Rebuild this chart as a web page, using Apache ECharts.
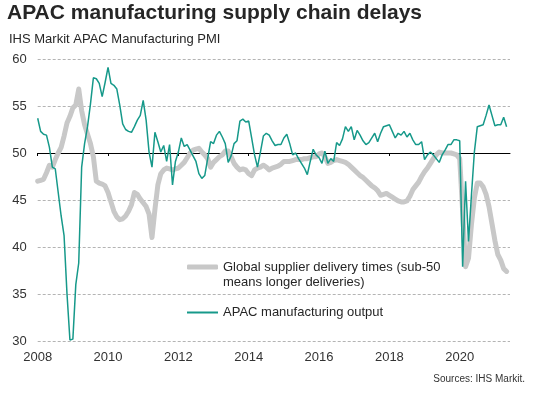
<!DOCTYPE html>
<html>
<head>
<meta charset="utf-8">
<title>APAC manufacturing supply chain delays</title>
<script src="https://cdn.jsdelivr.net/npm/echarts@6/dist/echarts.min.js"></script>
<style>
  html, body { margin: 0; padding: 0; background: #fff; }
  #chart { width: 535px; height: 398px; }
</style>
</head>
<body>
<div id="chart"></div>
<script>
// monthly readings, Jan 2008 .. May 2021
const startYear = 2008
const yearTicks = [2008, 2010, 2012, 2014, 2016, 2018, 2020]

const deliveryName = 'Global supplier delivery times (sub-50\nmeans longer deliveries)'
const outputName = 'APAC manufacturing output'

const delivery = [
  47.0, 47.1, 47.2, 47.9, 48.7, 48.5, 49.3, 50.0, 50.6, 51.8,
  53.2, 53.9, 54.8, 55.1, 56.8, 54.5, 53.0, 52.0, 51.0, 49.6,
  47.0, 46.8, 46.7, 46.5, 45.8, 44.8, 43.8, 43.2, 42.9, 43.0,
  43.3, 43.8, 44.5, 45.8, 45.6, 45.1, 44.7, 44.3, 43.5, 41.0,
  44.0, 46.6, 47.8, 48.2, 48.4, 48.3, 48.2, 48.3, 48.4, 48.7,
  49.0, 49.5, 50.0, 50.3, 50.4, 50.5, 50.1, 49.8, 49.4, 48.5,
  49.0, 49.3, 49.6, 49.8, 50.2, 50.2, 49.6, 48.9, 48.5, 48.2,
  48.3, 48.2, 47.8, 47.6, 48.2, 48.4, 48.5, 48.7, 48.5, 48.2,
  48.4, 48.5, 48.6, 48.8, 49.1, 49.1, 49.1, 49.2, 49.3, 49.3,
  49.3, 49.4, 49.4, 49.5, 49.6, 49.6, 49.9, 50.0, 49.6, 48.9,
  49.0, 49.2, 49.3, 49.2, 49.1, 49.0, 48.8, 48.5, 48.2, 47.9,
  47.6, 47.4, 47.1, 46.8, 46.5, 46.3, 46.0, 45.5, 45.6, 45.7,
  45.5, 45.3, 45.1, 44.9, 44.8, 44.8, 44.9, 45.4, 46.1, 46.5,
  46.9, 47.5, 48.0, 48.4, 48.9, 49.4, 49.8, 50.1, 50.0, 50.0,
  50.0, 50.0, 49.9, 49.8, 49.4, 43.8, 37.9, 38.8, 42.4, 45.2,
  46.8, 46.8, 46.4, 45.6, 44.3, 42.5, 40.7, 39.2, 38.6, 37.7, 37.4
]

const output = [
  53.7, 52.3, 52.0, 51.9, 50.6, 48.5, 48.3, 45.8, 43.3, 41.2,
  35.0, 30.1, 30.2, 36.0, 38.3, 48.5, 51.0, 52.8, 55.2, 58.0,
  57.9, 57.4, 56.0, 57.5, 59.1, 57.4, 57.2, 56.8, 55.1, 53.1,
  52.5, 52.3, 52.2, 52.8, 53.5, 54.0, 55.6, 53.5, 50.1, 48.5,
  52.2, 51.2, 50.1, 50.8, 49.1, 50.9, 46.6, 49.1, 50.1, 51.6,
  50.7, 50.9, 50.3, 49.7, 49.1, 47.8, 47.3, 47.6, 49.4, 51.2,
  51.0, 51.9, 52.3, 51.7, 51.0, 49.0, 49.7, 51.0, 51.3, 53.4,
  53.6, 53.3, 53.4, 51.6, 49.8, 48.5, 50.1, 51.8, 52.1, 51.9,
  51.3, 50.8, 50.9, 50.9, 51.6, 52.0, 51.0, 49.8, 50.0, 49.4,
  48.9, 48.4, 47.7, 49.1, 50.4, 49.8, 49.5, 48.9, 50.2, 48.9,
  49.4, 49.1, 51.1, 50.8, 51.5, 52.8, 52.3, 52.8, 51.4, 52.4,
  51.9, 51.3, 50.9, 51.1, 51.6, 52.1, 51.2, 52.1, 52.8, 52.9,
  53.0, 52.3, 51.6, 52.1, 51.9, 52.3, 51.7, 52.1, 51.4, 50.9,
  50.9, 51.2, 49.3, 49.8, 50.1, 49.8, 49.4, 49.0, 49.8, 50.3,
  50.9, 50.9, 51.4, 51.4, 51.3, 37.9, 47.0, 40.6, 45.5, 50.1,
  52.8, 52.9, 53.0, 54.0, 55.1, 54.0, 52.9, 53.0, 53.0, 53.8, 52.8
]

const font = 'Liberation Sans, Arial, sans-serif'
const gridPos = { left: 37.7, right: 25, top: 59 }
const grey = '#c8c8c8'
const teal = '#16998a'

// x position of each month in decimal years
function toPoints(values) {
  return values.map((v, i) => [startYear + i / 12, v])
}

const chart = echarts.init(document.getElementById('chart'))

chart.setOption({
  animation: false,
  textStyle: { fontFamily: font },
  title: [{
    text: 'APAC manufacturing supply chain delays',
    left: 7,
    top: 3,
    padding: 0,
    textStyle: { fontSize: 21, fontWeight: 'bold', color: '#262626', fontFamily: font }
  }, {
    text: 'IHS Markit APAC Manufacturing PMI',
    left: 9,
    top: 33,
    padding: 0,
    textStyle: { fontSize: 13, fontWeight: 'normal', color: '#262626', fontFamily: font }
  }, {
    text: 'Sources: IHS Markit.',
    right: 10,
    top: 374,
    padding: 0,
    textStyle: { fontSize: 10, fontWeight: 'normal', color: '#333', fontFamily: font }
  }],
  legend: [{
    data: [deliveryName],
    left: 187,
    top: 244.5,
    padding: 0,
    icon: 'roundRect',
    itemWidth: 31,
    itemHeight: 5,
    // empty first line keeps the icon level with the first line of text
    formatter: name => '\n' + name,
    textStyle: { fontSize: 13, color: '#262626', lineHeight: 15 }
  }, {
    data: [outputName],
    left: 187,
    top: 305,
    padding: 0,
    icon: 'rect',
    itemWidth: 31,
    itemHeight: 2,
    textStyle: { fontSize: 13, color: '#262626', lineHeight: 15 }
  }],
  grid: [
    { left: gridPos.left, right: gridPos.right, top: gridPos.top, bottom: 57 },
    // holds the solid 50 line with its year ticks
    { left: gridPos.left, right: gridPos.right, top: gridPos.top, height: 94 }
  ],
  xAxis: [{
    type: 'value',
    gridIndex: 0,
    min: 2008,
    max: 2021.43,
    splitLine: { show: false },
    axisLine: { show: false },
    axisTick: { show: false },
    axisLabel: {
      customValues: yearTicks,
      formatter: v => String(v),
      fontSize: 13,
      color: '#333',
      margin: 10
    }
  }, {
    type: 'value',
    gridIndex: 1,
    min: 2008,
    max: 2021.43,
    position: 'bottom',
    splitLine: { show: false },
    axisLine: { show: true, lineStyle: { color: '#000', width: 1 } },
    axisTick: { show: true, customValues: yearTicks, length: 3, lineStyle: { color: '#000' } },
    axisLabel: { show: false }
  }],
  yAxis: [{
    type: 'value',
    gridIndex: 0,
    min: 30,
    max: 60,
    interval: 5,
    axisLine: { show: false },
    axisTick: { show: false },
    axisLabel: { fontSize: 13, color: '#333', margin: 11 },
    splitLine: { lineStyle: { color: '#b4b4b4', type: [3, 2], width: 1 } }
  }, {
    type: 'value',
    gridIndex: 1,
    min: 0,
    max: 1,
    show: false
  }],
  series: [{
    name: deliveryName,
    type: 'line',
    xAxisIndex: 0,
    yAxisIndex: 0,
    symbol: 'none',
    data: toPoints(delivery),
    lineStyle: { color: grey, width: 5, cap: 'round', join: 'round' },
    itemStyle: { color: grey },
    z: 3
  }, {
    name: outputName,
    type: 'line',
    xAxisIndex: 0,
    yAxisIndex: 0,
    symbol: 'none',
    data: toPoints(output),
    lineStyle: { color: teal, width: 1.5 },
    itemStyle: { color: teal },
    z: 4
  }]
})
</script>
</body>
</html>
